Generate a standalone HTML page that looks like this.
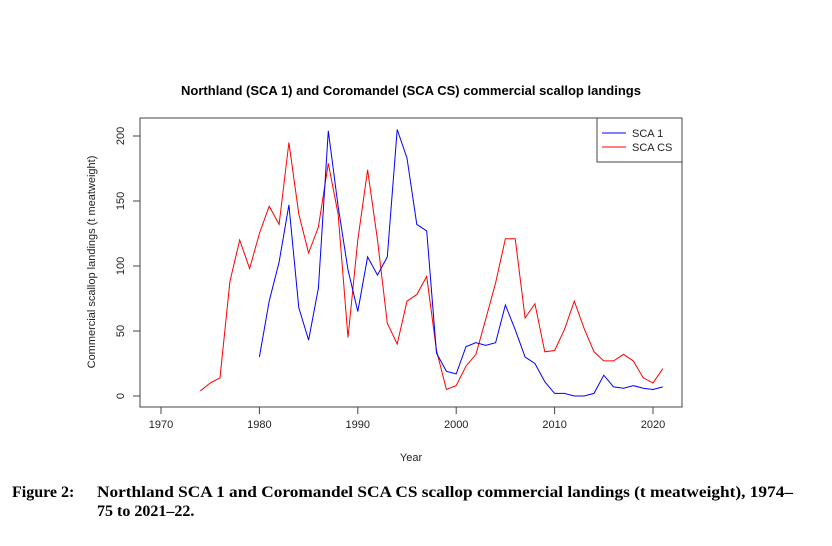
<!DOCTYPE html>
<html><head><meta charset="utf-8"><style>
body{margin:0;background:#fff;}
svg{display:block;font-family:"Liberation Sans",Arial,sans-serif;}
</style></head><body>
<svg width="832" height="546" viewBox="0 0 832 546">
<text x="411" y="95" text-anchor="middle" font-size="13" font-weight="bold" fill="#000">Northland (SCA 1) and Coromandel (SCA CS) commercial scallop landings</text>
<rect x="140" y="118" width="542" height="289" fill="none" stroke="#444" stroke-width="1"/>
<g id="xaxis"></g>
<g id="yaxis"></g>
<text x="411" y="461" text-anchor="middle" font-size="11" fill="#222">Year</text>
<text transform="translate(95,262) rotate(-90)" text-anchor="middle" font-size="11" fill="#222">Commercial scallop landings (t meatweight)</text>
<g id="series"></g>
<g>
<rect x="597" y="118" width="85" height="44" fill="#fff" stroke="#444" stroke-width="1"/>
<line x1="602" y1="133" x2="626" y2="133" stroke="#0000ff"/>
<text x="632" y="137" font-size="11" fill="#222">SCA 1</text>
<line x1="602" y1="147" x2="626" y2="147" stroke="#ff0000"/>
<text x="632" y="151" font-size="11" fill="#222">SCA CS</text>
</g>
<g font-family="'Liberation Serif','Times New Roman',serif" font-weight="bold" font-size="16" fill="#000">
<text x="12" y="497">Figure 2:</text>
<text x="97" y="497" textLength="696" lengthAdjust="spacingAndGlyphs">Northland SCA 1 and Coromandel SCA CS scallop commercial landings (t meatweight), 1974–</text>
<text x="97" y="516">75 to 2021–22.</text>
</g>
</svg>
<script>
const xTicks=[1970,1980,1990,2000,2010,2020];
const yTicks=[0,50,100,150,200];
const sca1Start=1980;
const sca1Values=[30,73,103,147,68,43,83,204,146,97,65,107,93,107,205,183,132,127,33,19,17,38,41,39,41,70,51,30,25,11,2,2,0,0,2,16,7,6,8,6,5,7];
const scacsStart=1974;
const scacsValues=[4,10,14,88,120,98,125,146,132,195,140,110,130,179,140,45,120,174,120,56,40,73,78,92,35,5,8,23,32,59,87,121,121,60,71,34,35,51,73,52,34,27,27,32,27,14,10,21];
const NS='http://www.w3.org/2000/svg';
function xs(yr){return 161+(yr-1970)*(653-161)/50;}
function ys(v){return 396-v*(396-136)/200;}
const xa=document.getElementById('xaxis'), ya=document.getElementById('yaxis');
function mk(tag,attrs,parent){const e=document.createElementNS(NS,tag);for(const k in attrs)e.setAttribute(k,attrs[k]);parent.appendChild(e);return e;}
xTicks.forEach(t=>{
  const x=xs(t);
  const l=mk('line',{x1:x,x2:x,y1:407,y2:414,stroke:'#444'},xa);
  
  
  const tx=mk('text',{x:x,y:428,'text-anchor':'middle','font-size':11,fill:'#222'},xa);
  tx.textContent=t;
  
  
});
yTicks.forEach(t=>{
  const y=ys(t);
  const l=mk('line',{x1:133,x2:140,y1:y,y2:y,stroke:'#444'},ya);
  
  
  const tx=mk('text',{transform:`translate(124,${y}) rotate(-90)`,'text-anchor':'middle','font-size':11,fill:'#222'},ya);
  tx.textContent=t;
  
  
});
const sg=document.getElementById('series');
function line(start,vals,color,name){
  const pts=vals.map((v,i)=>xs(start+i).toFixed(1)+','+ys(v).toFixed(1)).join(' ');
  const p=mk('polyline',{points:pts,fill:'none',stroke:color,'stroke-width':1},sg);
  
  
}
line(scacsStart,scacsValues,'#ff0000','series-sca-cs');
line(sca1Start,sca1Values,'#0000ff','series-sca-1');
</script>
</body></html>
